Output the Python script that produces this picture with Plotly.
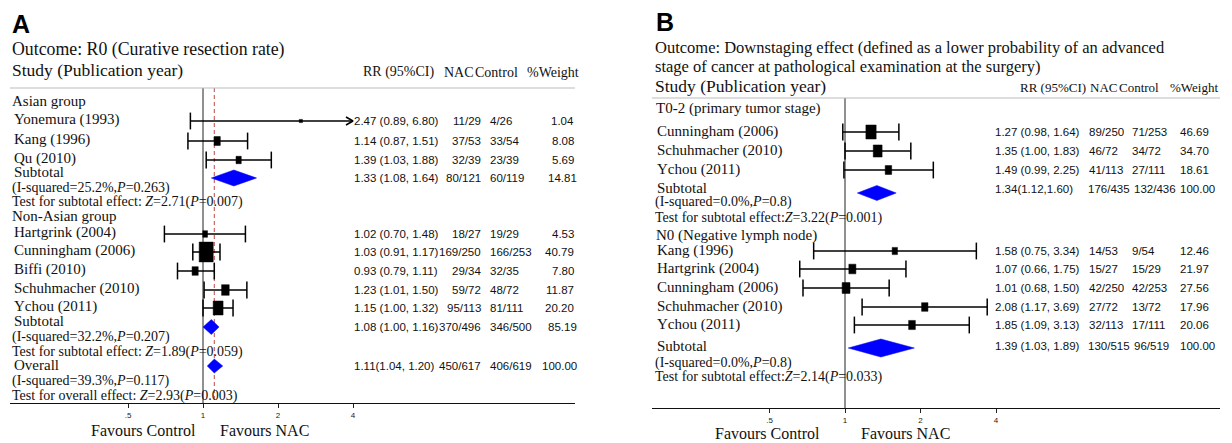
import math
import plotly.graph_objects as go

W, H = 1232, 443
SERIF = "Liberation Serif, Times New Roman, serif"
SANS = "Liberation Sans, Arial, sans-serif"

# ---------------- Panel A data ----------------
a_studies = ["Yonemura (1993)", "Kang (1996)", "Qu (2010)", "Hartgrink (2004)",
             "Cunningham (2006)", "Biffi (2010)", "Schuhmacher (2010)", "Ychou (2011)"]
a_rr = [2.47, 1.14, 1.39, 1.02, 1.03, 0.93, 1.23, 1.15]
a_lo = [0.89, 0.87, 1.03, 0.70, 0.91, 0.79, 1.01, 1.00]
a_hi = [6.80, 1.51, 1.88, 1.48, 1.17, 1.11, 1.50, 1.32]
a_nac = ["11/29", "37/53", "32/39", "18/27", "169/250", "29/34", "59/72", "95/113"]
a_ctrl = ["4/26", "33/54", "23/39", "19/29", "166/253", "32/35", "48/72", "81/111"]
a_wt = [1.04, 8.08, 5.69, 4.53, 40.79, 7.80, 11.87, 20.20]

a_groups = ["Asian group", "Non-Asian group"]
a_pool_names = ["Subtotal", "Subtotal", "Overall"]
a_pool_rr = [1.33, 1.08, 1.11]
a_pool_lo = [1.08, 1.00, 1.04]
a_pool_hi = [1.64, 1.16, 1.20]
a_pool_nac = ["80/121", "370/496", "450/617"]
a_pool_ctrl = ["60/119", "346/500", "406/619"]
a_pool_wt = [14.81, 85.19, 100.00]
a_i2 = ["25.2", "32.2", "39.3"]
a_phet = ["0.263", "0.207", "0.117"]
a_z = ["2.71", "1.89", "2.93"]
a_pz = ["0.007", "0.059", "0.003"]
a_test = ["subtotal", "subtotal", "overall"]

# ---------------- Panel B data ----------------
b_studies = ["Cunningham (2006)", "Schuhmacher (2010)", "Ychou (2011)",
             "Kang (1996)", "Hartgrink (2004)", "Cunningham (2006)",
             "Schuhmacher (2010)", "Ychou (2011)"]
b_rr = [1.27, 1.35, 1.49, 1.58, 1.07, 1.01, 2.08, 1.85]
b_lo = [0.98, 1.00, 0.99, 0.75, 0.66, 0.68, 1.17, 1.09]
b_hi = [1.64, 1.83, 2.25, 3.34, 1.75, 1.50, 3.69, 3.13]
b_nac = ["89/250", "46/72", "41/113", "14/53", "15/27", "42/250", "27/72", "32/113"]
b_ctrl = ["71/253", "34/72", "27/111", "9/54", "15/29", "42/253", "13/72", "17/111"]
b_wt = [46.69, 34.70, 18.61, 12.46, 21.97, 27.56, 17.96, 20.06]

b_groups = ["T0-2 (primary tumor stage)", "N0 (Negative lymph node)"]
b_pool_names = ["Subtotal", "Subtotal"]
b_pool_rr = [1.34, 1.39]
b_pool_lo = [1.12, 1.03]
b_pool_hi = [1.60, 1.89]
b_pool_nac = ["176/435", "130/515"]
b_pool_ctrl = ["132/436", "96/519"]
b_pool_wt = [100.00, 100.00]
b_i2 = ["0.0", "0.0"]
b_phet = ["0.8", "0.8"]
b_z = ["3.22", "2.14"]
b_pz = ["0.001", "0.033"]

ticks_val = [0.5, 1, 2, 4]
ticks_txt = [".5", "1", "2", "4"]

# ---------------- layout helpers ----------------
fig = go.Figure()
anns = []
shapes = []


def ann(x, y, text, size, family=SERIF, anchor="left", color="#111"):
    anns.append(dict(x=x / W, y=1 - y / H, xref="paper", yref="paper", text=text,
                     showarrow=False, xanchor=anchor, yanchor="middle", borderpad=0,
                     font=dict(family=family, size=size, color=color)))


def hline(x0, x1, y, color="#bbbbbb", width=1):
    shapes.append(dict(type="line", xref="paper", yref="paper", x0=x0 / W, x1=x1 / W,
                       y0=1 - y / H, y1=1 - y / H, line=dict(color=color, width=width)))


def panel(xa, ya, dom_px, rng, rows, rr, lo, hi, wt, box_k, pool_rows, prr, plo, phi,
          diam_h, y_top, y_bot, clip_max):
    px_per_dec = (dom_px[1] - dom_px[0]) / (rng[1] - rng[0])

    def fac(px):
        return 10 ** (px / px_per_dec)

    # reference line at 1
    fig.add_trace(go.Scatter(x=[1, 1], y=[y_top, y_bot], mode="lines",
                             line=dict(color="#222", width=1), xaxis=xa, yaxis=ya,
                             hoverinfo="skip", showlegend=False))
    # CI lines
    cx, cy, capx, capy, arx, ary = [], [], [], [], [], []
    for r, l, h, y in zip(rr, lo, hi, rows):
        hh = min(h, clip_max)
        cx += [l, hh, None]
        cy += [y, y, None]
        capx.append(l); capy.append(y)
        if h > clip_max:
            f = fac(7)
            arx += [clip_max / f, clip_max, clip_max / f, None]
            ary += [y - 4, y, y + 4, None]
        else:
            capx.append(h); capy.append(y)
    fig.add_trace(go.Scatter(x=cx, y=cy, mode="lines", line=dict(color="black", width=1.5),
                             xaxis=xa, yaxis=ya, hoverinfo="skip", showlegend=False))
    fig.add_trace(go.Scatter(x=capx, y=capy, mode="markers",
                             marker=dict(symbol="line-ns", size=12,
                                         line=dict(color="black", width=1.5)),
                             xaxis=xa, yaxis=ya, hoverinfo="skip", showlegend=False))
    if arx:
        fig.add_trace(go.Scatter(x=arx, y=ary, mode="lines", line=dict(color="black", width=1.5),
                                 xaxis=xa, yaxis=ya, hoverinfo="skip", showlegend=False))
    # weight boxes
    bx, by = [], []
    for r, w, y in zip(rr, wt, rows):
        hw = max(box_k[0] * math.sqrt(w) / 2, 1.6)
        hh = max(box_k[1] * math.sqrt(w) / 2, 1.6)
        f = fac(hw)
        bx += [r / f, r * f, r * f, r / f, r / f, None]
        by += [y - hh, y - hh, y + hh, y + hh, y - hh, None]
    fig.add_trace(go.Scatter(x=bx, y=by, mode="lines", fill="toself", fillcolor="black",
                             line=dict(color="black", width=0.5), xaxis=xa, yaxis=ya,
                             hoverinfo="skip", showlegend=False))
    # diamonds
    for r, l, h, y, dh in zip(prr, plo, phi, pool_rows, diam_h):
        fig.add_trace(go.Scatter(x=[l, r, h, r, l], y=[y, y - dh, y, y + dh, y], mode="lines",
                                 fill="toself", fillcolor="#0000ff",
                                 line=dict(color="#0000ff", width=0.5), xaxis=xa, yaxis=ya,
                                 hoverinfo="skip", showlegend=False))


# ---------------- Panel A ----------------
A_dom = (10, 575)
A_rng = (-0.77466, 1.49311)
A_bot, A_top = 403, 88
a_rows = [121, 141, 160, 234, 252, 271, 290, 308]
a_pool_rows = [178, 327, 366]
a_pool_lbl = [172, 321, 365]
a_het_rows = [188, 337, 381]
a_test_rows = [202, 352, 396]
a_group_rows = [101, 216]

# red dashed overall line
fig.add_trace(go.Scatter(x=[a_pool_rr[-1]] * 2, y=[A_top, A_bot], mode="lines",
                         line=dict(color="#c04848", width=1, dash="4px,3px"),
                         xaxis="x", yaxis="y", hoverinfo="skip", showlegend=False))
panel("x", "y", A_dom, A_rng, a_rows, a_rr, a_lo, a_hi, a_wt, (2.2, 3.1),
      a_pool_rows, a_pool_rr, a_pool_lo, a_pool_hi, [8, 7.5, 7], A_top, A_bot, 4)

NUM = 11.5
ann(11, 24, "<b>A</b>", 25, SANS, color="black")
ann(11, 49, "Outcome: R0 (Curative resection rate)", 17.8)
ann(11, 70, "Study (Publication year)", 17.5)
ann(362, 72, "RR (95%CI)", 14)
ann(443, 72, "NAC", 14)
ann(474, 72, "Control", 14)
ann(580, 72, "%Weight", 14, anchor="right")
hline(10, 575, A_top)
for g, y in zip(a_groups, a_group_rows):
    ann(11, y, g, 15)
for s, y in zip(a_studies, a_rows):
    ann(13, y - 2, s, 15)
for i, y in enumerate(a_rows):
    ann(353, y, f"{a_rr[i]:.2f} ({a_lo[i]:.2f}, {a_hi[i]:.2f})", NUM, SANS)
    ann(482, y, a_nac[i], NUM, SANS, anchor="right")
    ann(489, y, a_ctrl[i], NUM, SANS)
    ann(575, y, f"{a_wt[i]:.2f}", NUM, SANS, anchor="right")
for i in range(3):
    sep = "" if i == 2 else " "
    ann(13, a_pool_lbl[i], a_pool_names[i], 15)
    ann(11, a_het_rows[i], f"(I-squared={a_i2[i]}%,<i>P</i>={a_phet[i]})", 14)
    ann(11, a_test_rows[i], f"Test for {a_test[i]} effect: <i>Z</i>={a_z[i]}(<i>P</i>={a_pz[i]})", 14)
    y = a_pool_rows[i]
    ann(353, y, f"{a_pool_rr[i]:.2f}{sep}({a_pool_lo[i]:.2f}, {a_pool_hi[i]:.2f})", NUM, SANS)
    ann(482, y, a_pool_nac[i], NUM, SANS, anchor="right")
    ann(489, y, a_pool_ctrl[i], NUM, SANS)
    ann(578, y, f"{a_pool_wt[i]:.2f}", NUM, SANS, anchor="right")
ann(143, 430, "Favours Control", 16, anchor="center")
ann(264, 430, "Favours NAC", 16, anchor="center")

# ---------------- Panel B ----------------
B_dom = (652, 1220)
B_rng = (-0.7695, 1.4952)
B_bot, B_top = 408, 98
b_rows = [132, 151, 170, 251, 269, 288, 307, 325]
b_pool_rows = [193, 348]
b_pool_lbl = [188, 346]
b_pool_num = [189, 346]
b_het_rows = [202, 363]
b_test_rows = [218, 377]
b_group_rows = [108, 235]

panel("x2", "y2", B_dom, B_rng, b_rows, b_rr, b_lo, b_hi, b_wt, (1.5, 2.05),
      b_pool_rows, b_pool_rr, b_pool_lo, b_pool_hi, [7.5, 9], B_top, B_bot, 4)

ann(655, 22, "<b>B</b>", 25, SANS, color="black")
ann(654, 48, "Outcome: Downstaging effect (defined as a lower probability of an advanced", 16.5)
ann(654, 67, "stage of cancer at pathological examination at the surgery)", 16.5)
ann(654, 86, "Study (Publication year)", 17.5)
ann(1019, 88, "RR (95%CI)", 13)
ann(1089, 88, "NAC", 13)
ann(1118, 88, "Control", 13)
ann(1219, 88, "%Weight", 13, anchor="right")
hline(652, 1220, B_top)
for g, y in zip(b_groups, b_group_rows):
    ann(655, y, g, 15)
for s, y in zip(b_studies, b_rows):
    ann(656, y - 1, s, 15)
for i, y in enumerate(b_rows):
    ann(994, y, f"{b_rr[i]:.2f} ({b_lo[i]:.2f}, {b_hi[i]:.2f})", NUM, SANS)
    ann(1088, y, b_nac[i], NUM, SANS)
    ann(1131, y, b_ctrl[i], NUM, SANS)
    ann(1179, y, f"{b_wt[i]:.2f}", NUM, SANS)
for i in range(2):
    ann(656, b_pool_lbl[i], b_pool_names[i], 15)
    ann(654, b_het_rows[i], f"(I-squared={b_i2[i]}%,<i>P</i>={b_phet[i]})", 14)
    ann(654, b_test_rows[i], f"Test for subtotal effect:<i>Z</i>={b_z[i]}(<i>P</i>={b_pz[i]})", 14)
    y = b_pool_num[i]
    if i == 0:
        rrt = f"{b_pool_rr[i]:.2f}({b_pool_lo[i]:.2f},{b_pool_hi[i]:.2f})"
    else:
        rrt = f"{b_pool_rr[i]:.2f} ({b_pool_lo[i]:.2f}, {b_pool_hi[i]:.2f})"
    ann(994, y, rrt, NUM, SANS)
    ann(1087, y, b_pool_nac[i], NUM, SANS)
    ann(1133, y, b_pool_ctrl[i], NUM, SANS)
    ann(1179, y, f"{b_pool_wt[i]:.2f}", NUM, SANS)
ann(767, 433, "Favours Control", 16, anchor="center")
ann(905, 433, "Favours NAC", 16, anchor="center")

# ---------------- axes ----------------
xcommon = dict(type="log", tickvals=ticks_val, ticktext=ticks_txt, ticks="outside",
               ticklen=4, tickwidth=1, tickcolor="#222", showline=True, linecolor="#111",
               linewidth=1.2, showgrid=False, zeroline=False, fixedrange=True,
               tickfont=dict(family=SANS, size=8, color="#222"))
fig.update_layout(
    width=W, height=H, margin=dict(l=0, r=0, t=0, b=0),
    paper_bgcolor="white", plot_bgcolor="white", showlegend=False,
    xaxis=dict(domain=[A_dom[0] / W, A_dom[1] / W], range=list(A_rng), anchor="y", **xcommon),
    yaxis=dict(domain=[1 - A_bot / H, 1], range=[A_bot, 0], visible=False, fixedrange=True,
               anchor="x"),
    xaxis2=dict(domain=[B_dom[0] / W, B_dom[1] / W], range=list(B_rng), anchor="y2", **xcommon),
    yaxis2=dict(domain=[1 - B_bot / H, 1], range=[B_bot, 0], visible=False, fixedrange=True,
                anchor="x2"),
    annotations=anns, shapes=shapes,
)

fig.write_html("out.html", config={"displayModeBar": False},
               post_script="document.body.style.margin='0';document.body.style.overflow='hidden';")
